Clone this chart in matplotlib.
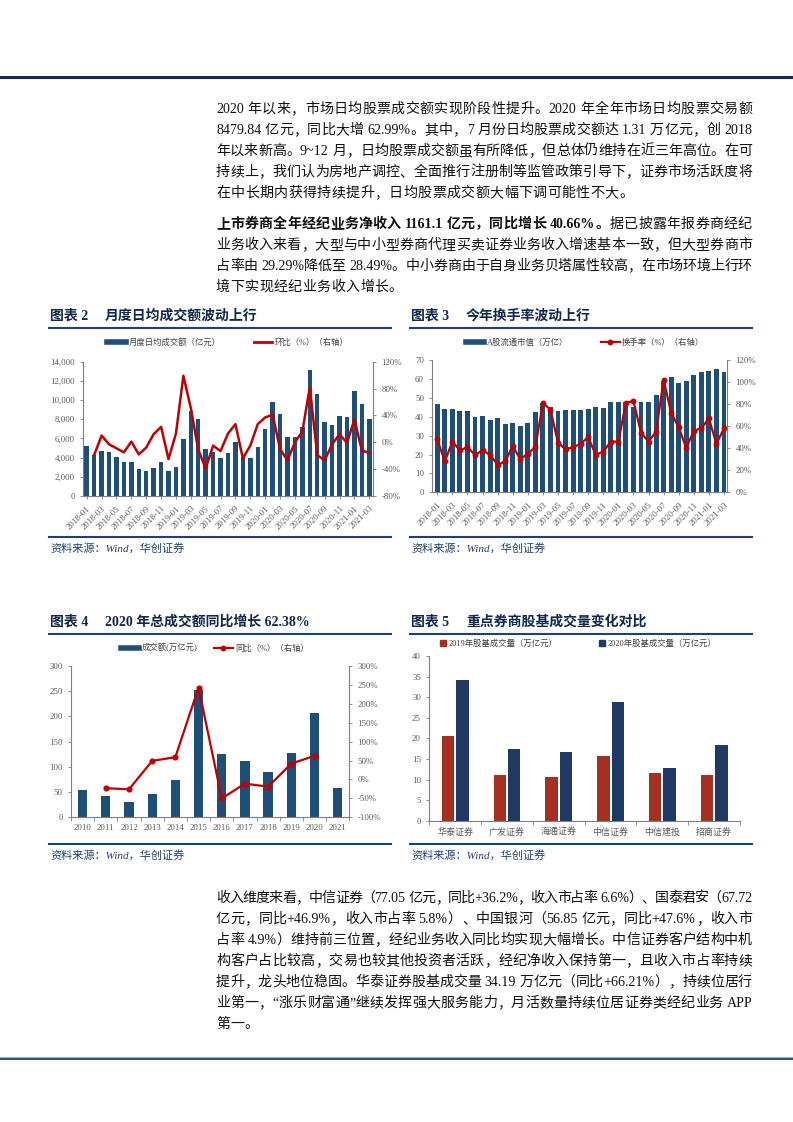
# brokerage report page: monthly turnover, turnover rate, yearly totals, broker volumes

import matplotlib
matplotlib.use('Agg')
import matplotlib.pyplot as plt
import numpy as np
from matplotlib.lines import Line2D

plt.rcParams['font.family'] = ['Liberation Serif', 'Noto Sans CJK SC']

W, H = 793, 1122

# ---- data ----
months = [f'{y}-{m:02d}' for y in (2018, 2019, 2020, 2021) for m in range(1, 13)][:39]

daily_amt = [5200, 4300, 4700, 4550, 4100, 3500, 3500, 2800, 2600, 2900, 3500, 2600,
             3000, 5900, 8900, 8000, 4900, 4600, 3950, 4500, 5650, 4100, 4000, 5100,
             7000, 9800, 8600, 6200, 6200, 7200, 13100, 10600, 7700, 7400, 8300, 8200,
             10900, 9600, 8000]
mom_pct = [np.nan, -19, 10, -3, -9, -15, 1, -18, -8, 12, 23, -25,
           13, 99, 51, -11, -39, -5, -13, 13, 27, -24, -5, 27,
           37, 41, -10, -27, 0, 16, 82, -19, -27, -3, 12, -1,
           34, -12, -16]

float_mv = [46.8, 44.2, 44.2, 42.8, 43.2, 39.8, 40.2, 38.3, 39.5, 36.0, 36.5, 35.0,
            36.5, 42.5, 47.5, 45.3, 42.8, 43.8, 43.8, 43.8, 44.2, 45.0, 44.6, 48.0,
            48.0, 47.8, 45.3, 48.0, 48.0, 51.6, 59.0, 61.0, 57.6, 58.7, 62.0, 63.8,
            64.2, 65.0, 63.5]
turnover_rate = [48, 28, 46, 38, 41, 34, 38, 34, 25, 28, 42, 30,
                 35, 41, 81, 75, 45, 39, 41, 44, 50, 34, 37, 46,
                 46, 81, 83, 54, 46, 55, 102, 72, 59, 40, 56, 58,
                 67, 44, 58]

years = ['2010', '2011', '2012', '2013', '2014', '2015', '2016', '2017', '2018', '2019', '2020', '2021']
total_amt = [54.5, 42, 31, 46.5, 73.5, 253, 126.5, 111, 90, 127, 206.5, 58]
yoy_pct = [np.nan, -23, -26, 49, 59, 243, -50, -11, -19, 42, 62.38, np.nan]

brokers = ['华泰证券', '广发证券', '海通证券', '中信证券', '中信建投', '招商证券']
vol_2019 = [20.6, 11.2, 10.6, 15.7, 11.5, 11.0]
vol_2020 = [34.19, 17.5, 16.7, 28.8, 12.9, 18.4]

para1 = [
    '2020 年以来，市场日均股票成交额实现阶段性提升。2020 年全年市场日均股票交易额',
    '8479.84 亿元，同比大增 62.99%。其中，7 月份日均股票成交额达 1.31 万亿元，创 2018',
    '年以来新高。9~12 月，日均股票成交额虽有所降低，但总体仍维持在近三年高位。在可',
    '持续上，我们认为房地产调控、全面推行注册制等监管政策引导下，证券市场活跃度将',
    '在中长期内获得持续提升，日均股票成交额大幅下调可能性不大。',
]
para2_bold = '上市券商全年经纪业务净收入 1161.1 亿元，同比增长 40.66%。'
para2 = [
    '据已披露年报券商经纪',
    '业务收入来看，大型与中小型券商代理买卖证券业务收入增速基本一致，但大型券商市',
    '占率由 29.29%降低至 28.49%。中小券商由于自身业务贝塔属性较高，在市场环境上行环',
    '境下实现经纪业务收入增长。',
]
para3 = [
    '收入维度来看，中信证券（77.05 亿元，同比+36.2%，收入市占率 6.6%）、国泰君安（67.72',
    '亿元，同比+46.9%，收入市占率 5.8%）、中国银河（56.85 亿元，同比+47.6%，收入市',
    '占率 4.9%）维持前三位置，经纪业务收入同比均实现大幅增长。中信证券客户结构中机',
    '构客户占比较高，交易也较其他投资者活跃，经纪净收入保持第一，且收入市占率持续',
    '提升，龙头地位稳固。华泰证券股基成交量 34.19 万亿元（同比+66.21%），持续位居行',
    '业第一，“涨乐财富通”继续发挥强大服务能力，月活数量持续位居证券类经纪业务 APP',
    '第一。',
]

NAVY = '#1F4E79'
RED = '#C00000'
BRICK = '#A5301F'
DNAVY = '#1F3864'
RULE = '#1F3F7A'
TITLE = '#10284F'
AXIS = '#7F7F7F'
TICK = '#595959'

fig = plt.figure(figsize=(W / 100, H / 100), dpi=100)
renderer = fig.canvas.get_renderer()


def fx(px):
    return px / W


def fy(py):
    return 1 - py / H


def hline(x0, x1, y, color, lw):
    fig.add_artist(Line2D([fx(x0), fx(x1)], [fy(y), fy(y)], color=color, lw=lw,
                          transform=fig.transFigure))


# ---- body text, justified line by line ----
LEFT, RIGHT, SPACE, FS = 216, 752, 3.5, 10.1


def split_tokens(s):
    toks = []
    buf = ''
    buf_space = False
    space = False
    for ch in s:
        if ch == ' ':
            if buf:
                toks.append([buf, buf_space])
                buf = ''
            space = True
        elif ord(ch) < 128:
            if not buf:
                buf_space = space
                space = False
            buf += ch
        else:
            if buf:
                toks.append([buf, buf_space])
                buf = ''
            toks.append([ch, space])
            space = False
    if buf:
        toks.append([buf, buf_space])
    return toks


def draw_line(segments, y, justify):
    items = []
    for text, weight in segments:
        for tok, sp in split_tokens(text):
            t = fig.text(0, fy(y + 5), tok, fontsize=FS, fontweight=weight,
                         va='baseline', ha='left', color='#111111')
            items.append([t, t.get_window_extent(renderer).width, sp])
    natural = sum(w for _, w, _ in items) + SPACE * sum(1 for *_, sp in items if sp)
    gap = (RIGHT - LEFT - natural) / (len(items) - 1) if justify else 0.4
    x = LEFT
    for i, (t, w, sp) in enumerate(items):
        if sp and i > 0:
            x += SPACE
        t.set_x(fx(x))
        x += w + gap


for i, line in enumerate(para1):
    draw_line([(line, 'normal')], 108 + 21 * i, i < len(para1) - 1)
for i, line in enumerate(para2):
    segs = [(para2_bold, 'bold'), (line, 'normal')] if i == 0 else [(line, 'normal')]
    draw_line(segs, 223 + 21 * i, i < len(para2) - 1)
for i, line in enumerate(para3):
    draw_line([(line, 'normal')], 897 + 21 * i, i < len(para3) - 1)

# ---- page rules ----
hline(0, 793, 76.5, '#0E2D5A', 2.2)
hline(0, 793, 1057.3, '#9DB3CF', 0.8)
hline(0, 793, 1058.9, RULE, 1.3)


def frame(x0, x1, ytitle, ysrc, num, title):
    fig.text(fx(x0 + 1), fy(ytitle), f'图表 {num}', fontsize=10, fontweight='bold',
             color=TITLE, va='center')
    fig.text(fx(x0 + 56), fy(ytitle), title, fontsize=10, fontweight='bold',
             color=TITLE, va='center')
    hline(x0, x1, ytitle + 11.5, RULE, 1.5)
    hline(x0, x1, ysrc - 11, RULE, 1.5)
    fig.text(fx(x0 + 1), fy(ysrc), '资料来源：Wind，华创证券', fontsize=8, style='italic',
             color=RULE, va='center')


frame(49, 391, 316, 548, 2, '月度日均成交额波动上行')
frame(410, 752, 316, 548, 3, '今年换手率波动上行')
frame(49, 391, 622, 855, 4, '2020 年总成交额同比增长 62.38%')
frame(410, 752, 622, 855, 5, '重点券商股基成交量变化对比')


def style(ax, right=False):
    ax.spines['top'].set_visible(False)
    for s in ax.spines.values():
        s.set_color(AXIS)
        s.set_linewidth(0.8)
    if not right:
        ax.spines['right'].set_visible(False)
    ax.tick_params(labelsize=6.3, colors=AXIS, labelcolor=TICK, length=2.5, width=0.6,
                   direction='out')


def twin_style(axr):
    for s in ['top', 'left', 'bottom']:
        axr.spines[s].set_visible(False)
    axr.spines['right'].set_color(AXIS)
    axr.spines['right'].set_linewidth(0.8)
    axr.tick_params(labelsize=6.3, colors=AXIS, labelcolor=TICK, length=2.5, width=0.6,
                    direction='out')


def add_axes(x0, x1, y0, y1):
    return fig.add_axes([fx(x0), fy(y1), (x1 - x0) / W, (y1 - y0) / H])


# ---- chart 2 ----
ax = add_axes(83.3, 373, 361.7, 496)
x = np.arange(len(months))
ax.bar(x, daily_amt, width=0.6, color=NAVY, zorder=2)
ax.set_xlim(-0.46, 38.5)
ax.set_ylim(0, 14000)
ax.set_yticks(range(0, 14001, 2000))
ax.set_yticklabels([f'{v:,}' for v in range(0, 14001, 2000)])
ax.set_xticks(x[::2])
ax.set_xticklabels(months[::2], rotation=45, ha='right', rotation_mode='anchor')
style(ax)
axr = ax.twinx()
axr.plot(x, mom_pct, color=RED, lw=1.8)
axr.set_ylim(-80, 120)
axr.set_yticks(range(-80, 121, 40))
axr.set_yticklabels([f'{v}%' for v in range(-80, 121, 40)])
twin_style(axr)
fig.legend([Line2D([], [], color=NAVY, lw=4), Line2D([], [], color=RED, lw=2)],
           ['月度日均成交额（亿元）', '环比（%）（右轴）'], loc='center',
           bbox_to_anchor=(fx(228), fy(343)), ncol=2, frameon=False, fontsize=6,
           handlelength=2.2, handletextpad=0.3, columnspacing=4, labelcolor='#404040')

# ---- chart 3 ----
ax = add_axes(432.3, 727.3, 360, 492.3)
ax.bar(x, float_mv, width=0.65, color=NAVY, zorder=2)
ax.set_xlim(-0.66, 38.44)
ax.set_ylim(0, 70)
ax.set_yticks(range(0, 71, 10))
ax.set_xticks(x[::2])
ax.set_xticklabels(months[::2], rotation=45, ha='right', rotation_mode='anchor')
style(ax)
axr = ax.twinx()
axr.plot(x, turnover_rate, color=RED, lw=1.6, marker='o', markersize=3.2)
axr.set_ylim(0, 120)
axr.set_yticks(range(0, 121, 20))
axr.set_yticklabels([f'{v}%' for v in range(0, 121, 20)])
twin_style(axr)
fig.legend([Line2D([], [], color=NAVY, lw=4),
            Line2D([], [], color=RED, lw=1.6, marker='o', markersize=3.2)],
           ['A股流通市值（万亿）', '换手率（%）（右轴）'], loc='center',
           bbox_to_anchor=(fx(585), fy(343)), ncol=2, frameon=False, fontsize=6,
           handlelength=2.2, handletextpad=0.3, columnspacing=4, labelcolor='#404040')

# ---- chart 4 ----
ax = add_axes(71, 349.3, 666, 817.3)
xi = np.arange(len(years))
ax.bar(xi, total_amt, width=0.4, color=NAVY, zorder=2)
ax.set_xlim(-0.5, len(years) - 0.5)
ax.set_ylim(0, 300)
ax.set_yticks(range(0, 301, 50))
ax.set_xticks(xi)
ax.set_xticklabels(years)
ax.set_xticks(np.arange(-0.5, len(years), 1), minor=True)
style(ax)
ax.tick_params(axis='x', which='major', length=0, pad=5)
ax.tick_params(axis='x', which='minor', length=3, width=0.6, colors=AXIS)
axr = ax.twinx()
axr.plot(xi, yoy_pct, color=RED, lw=1.6, marker='o', markersize=3.4)
axr.set_ylim(-100, 300)
axr.set_yticks(range(-100, 301, 50))
axr.set_yticklabels([f'{v}%' for v in range(-100, 301, 50)])
twin_style(axr)
fig.legend([Line2D([], [], color=NAVY, lw=4),
            Line2D([], [], color=RED, lw=1.6, marker='o', markersize=3.2)],
           ['成交额(万亿元)', '同比（%）（右轴）'], loc='center',
           bbox_to_anchor=(fx(215), fy(648)), ncol=2, frameon=False, fontsize=6,
           handlelength=2.2, handletextpad=0.3, columnspacing=2, labelcolor='#404040')

# ---- chart 5 ----
ax = add_axes(429.3, 740, 656, 820.7)
xb = np.arange(len(brokers))
ax.bar(xb - 0.14, vol_2019, width=0.24, color=BRICK, zorder=2)
ax.bar(xb + 0.14, vol_2020, width=0.24, color=DNAVY, zorder=2)
ax.set_xlim(-0.5, len(brokers) - 0.5)
ax.set_ylim(0, 40)
ax.set_yticks(range(0, 41, 5))
ax.set_xticks(xb)
ax.set_xticklabels(brokers)
ax.set_xticks(np.arange(-0.5, len(brokers), 1), minor=True)
style(ax)
ax.tick_params(axis='x', which='major', length=0, pad=5, labelsize=6.5)
ax.tick_params(axis='x', which='minor', length=3, width=0.6, colors=AXIS)
fig.legend([Line2D([], [], color=BRICK, marker='s', linestyle='None', markersize=4),
            Line2D([], [], color=DNAVY, marker='s', linestyle='None', markersize=4)],
           ['2019年股基成交量（万亿元）', '2020年股基成交量（万亿元）'], loc='center',
           bbox_to_anchor=(fx(578), fy(644)), ncol=2, frameon=False, fontsize=6,
           handlelength=0.8, handletextpad=0.2, columnspacing=5, labelcolor='#404040')

fig.savefig('out.png', dpi=100)
